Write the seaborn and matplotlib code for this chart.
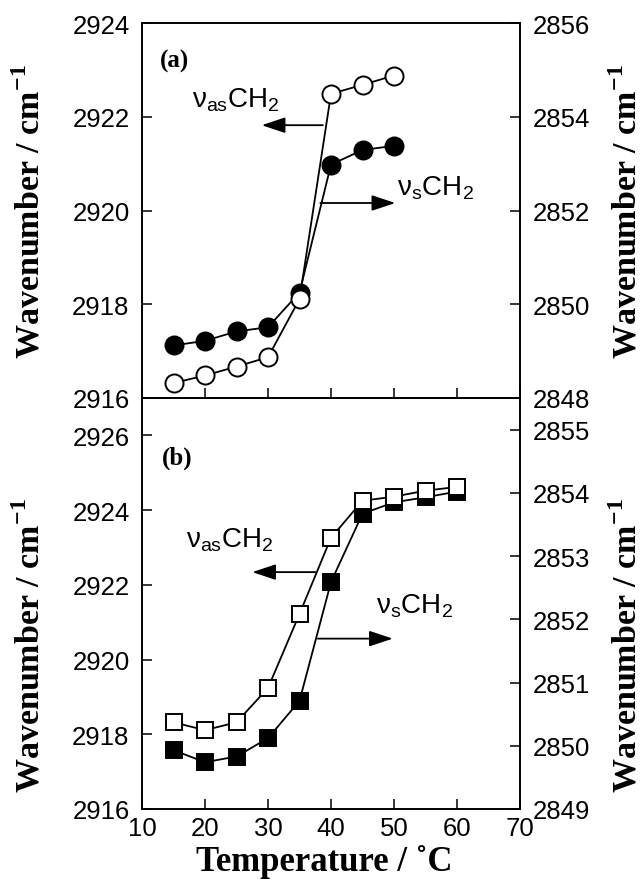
import numpy as np
import pandas as pd
import matplotlib
matplotlib.use("Agg")
import matplotlib.pyplot as plt
import seaborn as sns

# ---------------- data ----------------
temps_a = [15, 20, 25, 30, 35, 40, 45, 50]
nu_as_a = [2916.32, 2916.48, 2916.67, 2916.87, 2918.11, 2922.49, 2922.68, 2922.88]   # left axis
nu_s_a = [2849.12, 2849.22, 2849.42, 2849.51, 2850.25, 2852.98, 2853.29, 2853.38]    # right axis

temps_b = [15, 20, 25, 30, 35, 40, 45, 50, 55, 60]
nu_as_b = [2918.32, 2918.11, 2918.32, 2919.24, 2921.22, 2923.26, 2924.25, 2924.36, 2924.52, 2924.62]
nu_s_b = [2849.93, 2849.74, 2849.83, 2850.12, 2850.71, 2852.59, 2853.67, 2853.85, 2853.93, 2854.02]

x_ticks = [10, 20, 30, 40, 50, 60, 70]
left_ticks_a = [2916, 2918, 2920, 2922, 2924]
right_ticks_a = [2848, 2850, 2852, 2854, 2856]
left_ticks_b = [2916, 2918, 2920, 2922, 2924, 2926]
right_ticks_b = [2849, 2850, 2851, 2852, 2853, 2854, 2855]

ylabel_text = r"Wavenumber / cm$^{\mathbf{-1}}$"
xlabel_text = "Temperature / ˚C"
as_label = r"ν$_{\mathrm{as}}$CH$_{2}$"
s_label = r"ν$_{\mathrm{s}}$CH$_{2}$"

# ---------------- style ----------------
sns.set_style("ticks")
plt.rcParams["font.family"] = ["Liberation Sans", "DejaVu Sans"]
plt.rcParams["mathtext.fontset"] = "custom"
plt.rcParams["mathtext.rm"] = "Liberation Sans"
plt.rcParams["mathtext.bf"] = "Liberation Serif:bold"
plt.rcParams["axes.linewidth"] = 1.2
for key in ["text.color", "axes.labelcolor", "xtick.color", "ytick.color",
            "axes.edgecolor", "xtick.labelcolor", "ytick.labelcolor"]:
    plt.rcParams[key] = "black"

TICK_FS = 18.5
LABEL_FS = 24.5
ANN_FS = 20

fig = plt.figure(figsize=(6.42, 8.87), dpi=100)
L, W = 0.2212, 0.5888
ax_a = fig.add_axes([L, 0.55017, W, 0.42277])
ax_b = fig.add_axes([L, 0.08681, W, 0.46336])

line_kw = dict(color="black", linewidth=1.3, markeredgewidth=1.4, markeredgecolor="black")


def style_axes(ax, ax2, show_xlabels):
    ax.set_xlim(10, 70)
    ax.set_xticks(x_ticks)
    ax.tick_params(axis="x", direction="in", length=7, width=1.1, top=False,
                   labelbottom=show_xlabels, labelsize=TICK_FS, pad=5, colors="black")
    ax.tick_params(axis="y", direction="in", length=7, width=1.1, right=False,
                   labelsize=TICK_FS, pad=9, colors="black")
    ax2.tick_params(axis="y", direction="in", length=7, width=1.1, left=False,
                    labelsize=TICK_FS, pad=9, colors="black")
    for a in (ax, ax2):
        for sp in a.spines.values():
            sp.set_visible(True)
            sp.set_linewidth(1.2)
            sp.set_color("black")


def add_ylabels(ax, ax2, ycenter):
    ax.set_ylabel(ylabel_text, fontsize=LABEL_FS, fontweight="bold",
                  family="Liberation Serif", color="black")
    ax.yaxis.label.set_va("center")
    ax.yaxis.set_label_coords(-0.296, ycenter)
    ax2.set_ylabel(ylabel_text, fontsize=LABEL_FS, fontweight="bold",
                   family="Liberation Serif", rotation=90, color="black")
    ax2.yaxis.label.set_va("center")
    ax2.yaxis.set_label_coords(1.283, ycenter)


arrow_style = "-|>,head_length=0.6,head_width=0.2"


def arrow(ax, x0, x1, y):
    ax.annotate("", xy=(x1, y), xytext=(x0, y),
                arrowprops=dict(arrowstyle=arrow_style, color="black", lw=1.3,
                                mutation_scale=24, shrinkA=0, shrinkB=0))


# ---------------- panel (a) ----------------
ax_a2 = ax_a.twinx()
ax_a.set_zorder(ax_a2.get_zorder() + 1)
ax_a.patch.set_visible(False)

sns.lineplot(x=temps_a, y=nu_s_a, ax=ax_a2, marker="o", markersize=13,
             markerfacecolor="black", **line_kw)
sns.lineplot(x=temps_a, y=nu_as_a, ax=ax_a, marker="o", markersize=13,
             markerfacecolor="white", **line_kw)

ax_a.set_ylim(2916, 2924)
ax_a.set_yticks(left_ticks_a)
ax_a2.set_ylim(2848, 2856)
ax_a2.set_yticks(right_ticks_a)
style_axes(ax_a, ax_a2, False)
ax_a.set_xlabel("")
add_ylabels(ax_a, ax_a2, 0.5)

ax_a.text(12.9, 2923.2, "(a)", fontsize=18, fontweight="bold",
          family="Liberation Serif", ha="left", va="center")
ax_a.text(17.9, 2922.38, as_label, fontsize=ANN_FS, ha="left", va="center")
arrow(ax_a, 38.7, 29.0, 2921.82)
ax_a.text(50.5, 2920.5, s_label, fontsize=ANN_FS, ha="left", va="center")
arrow(ax_a, 38.3, 50.2, 2920.16)

# ---------------- panel (b) ----------------
ax_b2 = ax_b.twinx()
ax_b.set_zorder(ax_b2.get_zorder() + 1)
ax_b.patch.set_visible(False)

sns.lineplot(x=temps_b, y=nu_s_b, ax=ax_b2, marker="s", markersize=12,
             markerfacecolor="black", **line_kw)
sns.lineplot(x=temps_b, y=nu_as_b, ax=ax_b, marker="s", markersize=12,
             markerfacecolor="white", **line_kw)

ax_b.set_ylim(2916, 2927)
ax_b.set_yticks(left_ticks_b)
ax_b2.set_ylim(2849, 2855.5)
ax_b2.set_yticks(right_ticks_b)
style_axes(ax_b, ax_b2, True)
add_ylabels(ax_b, ax_b2, 0.401)

ax_b.set_xlabel(xlabel_text, fontsize=LABEL_FS + 0.5, fontweight="bold",
                family="Liberation Serif", color="black")
ax_b.xaxis.label.set_va("center")
ax_b.xaxis.set_label_coords(0.483, -0.1265)

ax_b.text(13.2, 2925.41, "(b)", fontsize=18, fontweight="bold",
          family="Liberation Serif", ha="left", va="center")
ax_b.text(17.0, 2923.22, as_label, fontsize=ANN_FS, ha="left", va="center")
arrow(ax_b, 37.5, 27.5, 2922.34)
ax_b.text(47.1, 2921.46, s_label, fontsize=ANN_FS, ha="left", va="center")
arrow(ax_b, 37.9, 49.8, 2920.56)

fig.savefig("out.png", dpi=100)
